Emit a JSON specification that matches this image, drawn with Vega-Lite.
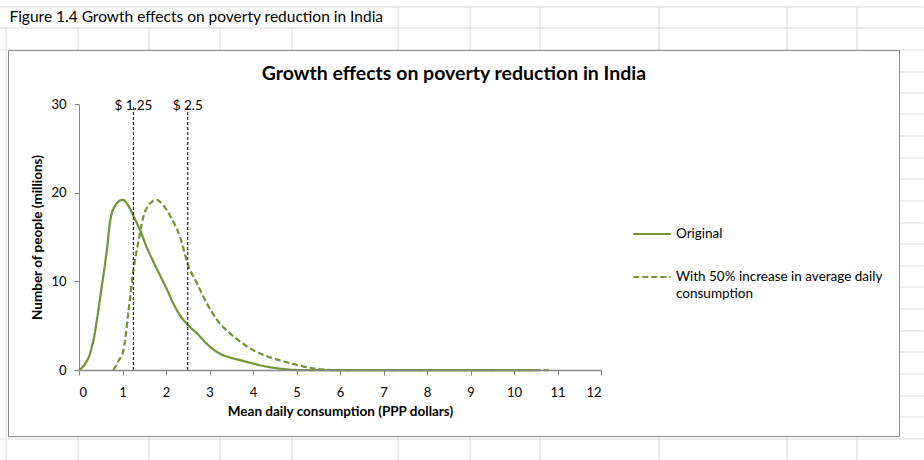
{
  "$schema": "https://vega.github.io/schema/vega-lite/v6.json",
  "autosize": "none",
  "width": 522,
  "height": 266,
  "padding": {"left": 79, "top": 104, "right": 323, "bottom": 90},
  "background": "white",
  "config": {
    "view": {"stroke": null},
    "font": "Lato",
    "axis": {"domainColor": "#868686", "tickColor": "#868686", "tickSize": 5, "labelColor": "#000000", "titleColor": "#000000", "labelFont": "Lato", "titleFont": "Lato", "labelFontSize": 13, "titleFontSize": 13.5, "titleFontWeight": "bold", "grid": false},
    "style": {"guide-label": {"lineHeight": 17}}
  },
  "layer": [
    {
      "data": {"values": [
        {"x": -1.816, "x2": 19.425, "y": 40.94, "y2": 40.94},
        {"x": -1.816, "x2": 19.425, "y": 38.57, "y2": 38.57},
        {"x": -1.816, "x2": 19.425, "y": 36.09, "y2": 36.09},
        {"x": 18.874, "x2": 19.425, "y": 33.61, "y2": 33.61},
        {"x": 18.874, "x2": 19.425, "y": 31.24, "y2": 31.24},
        {"x": 18.874, "x2": 19.425, "y": 28.87, "y2": 28.87},
        {"x": 18.874, "x2": 19.425, "y": 26.39, "y2": 26.39},
        {"x": 18.874, "x2": 19.425, "y": 23.91, "y2": 23.91},
        {"x": 18.874, "x2": 19.425, "y": 21.54, "y2": 21.54},
        {"x": 18.874, "x2": 19.425, "y": 19.06, "y2": 19.06},
        {"x": 18.874, "x2": 19.425, "y": 16.58, "y2": 16.58},
        {"x": 18.874, "x2": 19.425, "y": 14.21, "y2": 14.21},
        {"x": 18.874, "x2": 19.425, "y": 11.73, "y2": 11.73},
        {"x": 18.874, "x2": 19.425, "y": 9.36, "y2": 9.36},
        {"x": 18.874, "x2": 19.425, "y": 6.88, "y2": 6.88},
        {"x": 18.874, "x2": 19.425, "y": 4.40, "y2": 4.40},
        {"x": 18.874, "x2": 19.425, "y": 2.03, "y2": 2.03},
        {"x": 18.874, "x2": 19.425, "y": -0.45, "y2": -0.45},
        {"x": 18.874, "x2": 19.425, "y": -2.93, "y2": -2.93},
        {"x": 18.874, "x2": 19.425, "y": -5.30, "y2": -5.30},
        {"x": -1.816, "x2": 19.425, "y": -7.78, "y2": -7.78},
        {"x": -1.678, "x2": -1.678, "y": 38.57, "y2": -10.2},
        {"x": -0.023, "x2": -0.023, "y": 38.57, "y2": -10.2},
        {"x": 1.609, "x2": 1.609, "y": 38.57, "y2": -10.2},
        {"x": 3.241, "x2": 3.241, "y": 38.57, "y2": -10.2},
        {"x": 4.897, "x2": 4.897, "y": 38.57, "y2": -10.2},
        {"x": 7.333, "x2": 7.333, "y": 40.94, "y2": -10.2},
        {"x": 8.989, "x2": 8.989, "y": 40.94, "y2": -10.2},
        {"x": 10.598, "x2": 10.598, "y": 40.94, "y2": -10.2},
        {"x": 13.333, "x2": 13.333, "y": 40.94, "y2": -10.2},
        {"x": 16.276, "x2": 16.276, "y": 40.94, "y2": -10.2},
        {"x": 17.885, "x2": 17.885, "y": 40.94, "y2": -10.2}
      ]},
      "mark": {"type": "rule", "color": "#d9d9d9", "strokeWidth": 1, "clip": false},
      "encoding": {
        "x": {"field": "x", "type": "quantitative", "scale": {"domain": [0, 12], "nice": false}},
        "x2": {"field": "x2"},
        "y": {"field": "y", "type": "quantitative", "scale": {"domain": [0, 30], "nice": false}},
        "y2": {"field": "y2"}
      }
    },
    {
      "data": {"values": [
        {"x": -1.621, "x2": 18.862, "y": -7.5, "y2": 36.03}
      ]},
      "mark": {"type": "rect", "fill": "#ffffff", "stroke": "#8a8a8a", "strokeWidth": 1, "clip": false},
      "encoding": {
        "x": {"field": "x", "type": "quantitative"},
        "x2": {"field": "x2"},
        "y": {"field": "y", "type": "quantitative"},
        "y2": {"field": "y2"}
      }
    },
    {
      "data": {"values": [
        {"x": -1.6, "y": 39.8, "t": "Figure 1.4 Growth effects on poverty reduction in India"}
      ]},
      "mark": {"type": "text", "align": "left", "baseline": "middle", "font": "Lato", "fontSize": 15.5, "color": "#000000", "clip": false},
      "encoding": {
        "x": {"field": "x", "type": "quantitative"},
        "y": {"field": "y", "type": "quantitative"},
        "text": {"field": "t"}
      }
    },
    {
      "data": {"values": [
        {"x": 8.62, "y": 33.38, "t": "Growth effects on poverty  reduction in India"}
      ]},
      "mark": {"type": "text", "align": "center", "baseline": "middle", "font": "Lato", "fontSize": 19.5, "fontWeight": "bold", "color": "#000000", "clip": false},
      "encoding": {
        "x": {"field": "x", "type": "quantitative"},
        "y": {"field": "y", "type": "quantitative"},
        "text": {"field": "t"}
      }
    },
    {
      "data": {"values": [
        {"x": 0, "y": 0, "s": "Original"},
        {"x": 0.14, "y": 0.68, "s": "Original"},
        {"x": 0.25, "y": 1.8, "s": "Original"},
        {"x": 0.33, "y": 3.3, "s": "Original"},
        {"x": 0.41, "y": 5.6, "s": "Original"},
        {"x": 0.52, "y": 9.3, "s": "Original"},
        {"x": 0.64, "y": 13.5, "s": "Original"},
        {"x": 0.72, "y": 16.9, "s": "Original"},
        {"x": 0.83, "y": 18.5, "s": "Original"},
        {"x": 1.0, "y": 19.2, "s": "Original"},
        {"x": 1.14, "y": 18.5, "s": "Original"},
        {"x": 1.25, "y": 17.4, "s": "Original"},
        {"x": 1.41, "y": 15.7, "s": "Original"},
        {"x": 1.56, "y": 13.8, "s": "Original"},
        {"x": 1.72, "y": 12.1, "s": "Original"},
        {"x": 1.87, "y": 10.6, "s": "Original"},
        {"x": 2.02, "y": 9.1, "s": "Original"},
        {"x": 2.18, "y": 7.4, "s": "Original"},
        {"x": 2.33, "y": 6.1, "s": "Original"},
        {"x": 2.48, "y": 5.2, "s": "Original"},
        {"x": 2.72, "y": 4.1, "s": "Original"},
        {"x": 2.95, "y": 2.9, "s": "Original"},
        {"x": 3.18, "y": 2.0, "s": "Original"},
        {"x": 3.48, "y": 1.4, "s": "Original"},
        {"x": 3.72, "y": 1.1, "s": "Original"},
        {"x": 4.02, "y": 0.7, "s": "Original"},
        {"x": 4.41, "y": 0.3, "s": "Original"},
        {"x": 4.72, "y": 0.1, "s": "Original"},
        {"x": 5.0, "y": 0, "s": "Original"},
        {"x": 6.0, "y": 0, "s": "Original"},
        {"x": 8.0, "y": 0, "s": "Original"},
        {"x": 10.5, "y": 0, "s": "Original"},
        {"x": 0.79, "y": 0, "s": "With 50% increase in average daily consumption"},
        {"x": 0.91, "y": 1.05, "s": "With 50% increase in average daily consumption"},
        {"x": 1.02, "y": 2.2, "s": "With 50% increase in average daily consumption"},
        {"x": 1.14, "y": 6.7, "s": "With 50% increase in average daily consumption"},
        {"x": 1.25, "y": 11.2, "s": "With 50% increase in average daily consumption"},
        {"x": 1.37, "y": 14.6, "s": "With 50% increase in average daily consumption"},
        {"x": 1.52, "y": 17.9, "s": "With 50% increase in average daily consumption"},
        {"x": 1.78, "y": 19.2, "s": "With 50% increase in average daily consumption"},
        {"x": 1.95, "y": 18.5, "s": "With 50% increase in average daily consumption"},
        {"x": 2.14, "y": 17.0, "s": "With 50% increase in average daily consumption"},
        {"x": 2.33, "y": 14.9, "s": "With 50% increase in average daily consumption"},
        {"x": 2.5, "y": 11.95, "s": "With 50% increase in average daily consumption"},
        {"x": 2.72, "y": 9.7, "s": "With 50% increase in average daily consumption"},
        {"x": 2.95, "y": 7.4, "s": "With 50% increase in average daily consumption"},
        {"x": 3.18, "y": 5.6, "s": "With 50% increase in average daily consumption"},
        {"x": 3.48, "y": 4.1, "s": "With 50% increase in average daily consumption"},
        {"x": 3.79, "y": 2.9, "s": "With 50% increase in average daily consumption"},
        {"x": 4.02, "y": 2.2, "s": "With 50% increase in average daily consumption"},
        {"x": 4.41, "y": 1.4, "s": "With 50% increase in average daily consumption"},
        {"x": 4.79, "y": 0.86, "s": "With 50% increase in average daily consumption"},
        {"x": 5.25, "y": 0.3, "s": "With 50% increase in average daily consumption"},
        {"x": 5.8, "y": 0, "s": "With 50% increase in average daily consumption"},
        {"x": 7.0, "y": 0, "s": "With 50% increase in average daily consumption"},
        {"x": 9.0, "y": 0, "s": "With 50% increase in average daily consumption"},
        {"x": 10.8, "y": 0, "s": "With 50% increase in average daily consumption"}
      ]},
      "mark": {"type": "line", "color": "#77933C", "strokeWidth": 2.25, "interpolate": "monotone"},
      "encoding": {
        "x": {"field": "x", "type": "quantitative", "title": "Mean daily consumption (PPP dollars)",
              "axis": {"zindex": 1, "values": [0,1,2,3,4,5,6,7,8,9,10,11,12], "titlePadding": 5, "labelPadding": 11, "domainWidth": 1.5}},
        "y": {"field": "y", "type": "quantitative", "title": "Number of people (millions)",
              "axis": {"zindex": 1, "values": [0, 10, 20, 30], "titlePadding": 6, "labelPadding": 8, "titleFontSize": 13.5}},
        "strokeDash": {"field": "s", "type": "nominal",
          "scale": {"domain": ["Original", "With 50% increase in average daily consumption"], "range": [[1, 0], [6, 3]]},
          "legend": {"title": null, "orient": "none", "legendX": 553, "legendY": 110, "symbolType": "stroke", "symbolSize": 1400, "symbolStrokeColor": "#77933C", "symbolStrokeWidth": 2, "labelFont": "Lato", "labelFontSize": 13.5, "labelColor": "#000000", "labelLimit": 400, "rowPadding": 16, "labelOffset": 4,
            "labelExpr": "datum.label == 'Original' ? 'Original' : ['With 50% increase in average daily', 'consumption']"}}
      }
    },
    {
      "data": {"values": [
        {"x": 1.25, "y": 0, "y2": 29.7, "label": "$ 1.25"},
        {"x": 2.5, "y": 0, "y2": 29.7, "label": "$ 2.5"}
      ]},
      "layer": [
        {
          "mark": {"type": "rule", "color": "#000000", "strokeWidth": 1, "strokeDash": [3, 2]},
          "encoding": {
            "x": {"field": "x", "type": "quantitative"},
            "y": {"field": "y", "type": "quantitative"},
            "y2": {"field": "y2"}
          }
        },
        {
          "mark": {"type": "text", "baseline": "middle", "align": "center", "font": "Lato", "fontSize": 13.5, "color": "#000000", "dy": -1},
          "encoding": {
            "x": {"field": "x", "type": "quantitative"},
            "y": {"field": "y2", "type": "quantitative"},
            "text": {"field": "label"}
          }
        }
      ]
    }
  ]
}
